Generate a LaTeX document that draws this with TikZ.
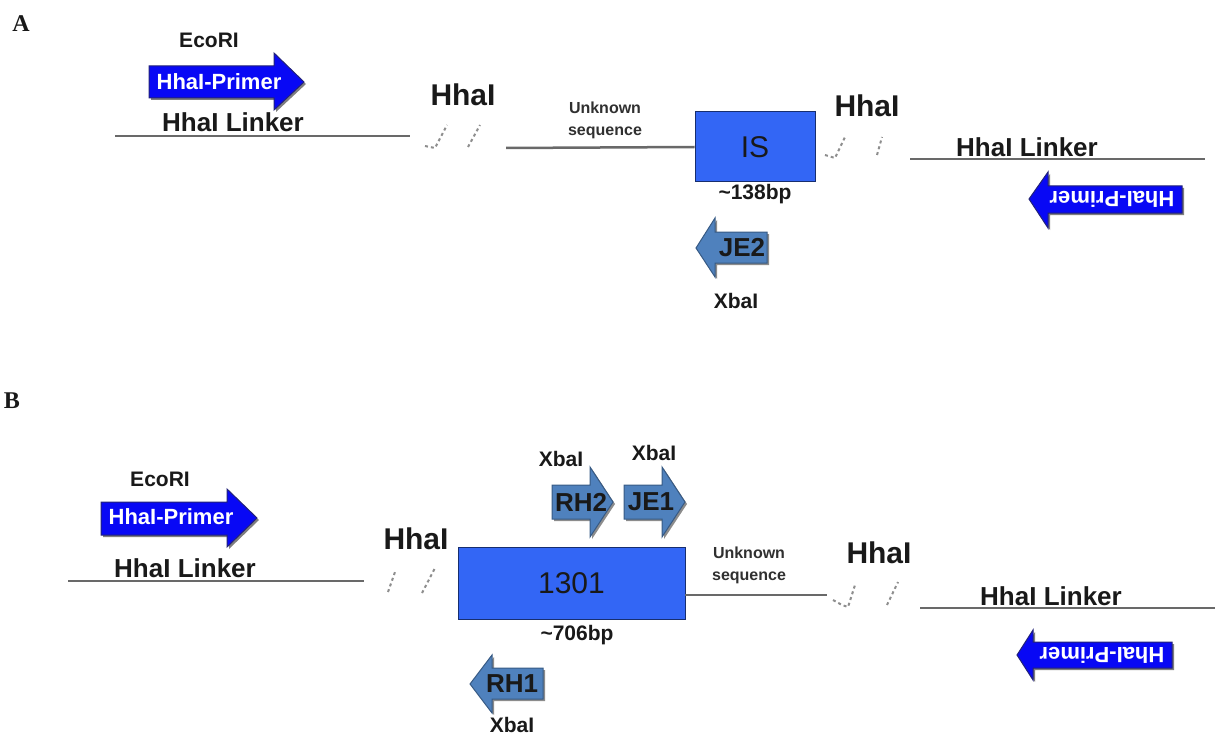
\documentclass[tikz,border=0pt]{standalone}
\usepackage{fontspec}
\setmainfont{Liberation Sans}
\newfontfamily\panelfont{Liberation Serif}
\usetikzlibrary{shadows}
\definecolor{primerblue}{RGB}{8,8,245}
\definecolor{primeredge}{RGB}{35,35,120}
\definecolor{isblue}{RGB}{51,102,245}
\definecolor{oligoblue}{RGB}{79,129,189}
\definecolor{linegray}{RGB}{105,105,105}
\definecolor{txt}{RGB}{25,25,25}
\begin{document}
\begin{tikzpicture}[x=1pt,y=-1pt,
  dna/.style={draw=linegray, line width=2.5pt},
  brk/.style={draw=linegray!75, line width=2pt, dash pattern=on 3pt off 3pt},
  primer/.style={fill=primerblue, draw=primeredge, line width=1pt,
    drop shadow={shadow xshift=2pt, shadow yshift=-2pt, opacity=0.5, fill=black}},
  oligo/.style={fill=oligoblue, draw=oligoblue!70!black, line width=1pt,
    drop shadow={shadow xshift=2pt, shadow yshift=-2pt, opacity=0.45, fill=black}},
  insert/.style={rectangle, fill=isblue, draw=isblue!45!black, line width=1pt, inner sep=0pt,
    text=txt, font=\fontsize{30}{30}\selectfont},
  panel/.style={font=\panelfont\bfseries\fontsize{24}{24}\selectfont, text=txt, inner sep=0pt},
  site/.style={font=\bfseries\fontsize{30}{30}\selectfont, text=txt, inner sep=0pt},
  linker/.style={font=\bfseries\fontsize{26}{26}\selectfont, text=txt, inner sep=0pt},
  eco/.style={font=\bfseries\fontsize{21}{21}\selectfont, text=txt, inner sep=0pt},
  primertext/.style={font=\bfseries\fontsize{22}{22}\selectfont, text=white, inner sep=0pt},
  oligotext/.style={font=\bfseries\fontsize{26}{26}\selectfont, text=txt, inner sep=0pt},
  unk/.style={font=\bfseries\fontsize{16}{22}\selectfont, text=txt!90, align=center, inner sep=0pt},
  bp/.style={font=\bfseries\fontsize{21}{21}\selectfont, text=txt, inner sep=0pt},
]
\useasboundingbox (0,0) rectangle (1217,738);

% ================= Panel A =================
\node[panel] (labA) at (21,24) {A};
\node[eco] (ecoA) at (209,40) {EcoRI};
\path[primer] (149,66) -- (274,66) -- (274,53) -- (304,82) -- (274,110) -- (274,98) -- (149,98) -- cycle;
\node[primertext] (pA1) at (219,82) {HhaI-Primer};

\coordinate (a1) at (115,136);
\coordinate (a2) at (410,136);
\draw[dna] (a1) -- (a2);
\node[linker] (linkA1) at (233,122) {HhaI Linker};

\node[site] (hhA1) at (463,95) {HhaI};
\draw[brk] (425,146) -- (435,148) -- (447,125);
\draw[brk] (468,147) -- (480,125);

\node[insert, minimum width=120pt, minimum height=70pt] (isA) at (755,147) {IS};
\coordinate (a3) at (506,148);
\draw[dna] (a3) -- (isA.west);
\node[unk] (unkA) at (605,120) {Unknown\\sequence};
\node[bp] (bpA) at (755,194) {\textasciitilde138bp};

\path[oligo] (767,232) -- (715,232) -- (715,218) -- (696,248) -- (715,277) -- (715,263) -- (767,263) -- cycle;
\node[oligotext] (je2) at (742,248) {JE2};
\node[eco] (xbA) at (736,301) {XbaI};

\node[site] (hhA2) at (867,106) {HhaI};
\draw[brk] (825,155) -- (835,158) -- (845,137);
\draw[brk] (877,155) -- (882,137);
\coordinate (a4) at (910,159);
\coordinate (a5) at (1205,159);
\draw[dna] (a4) -- (a5);
\node[linker] (linkA2) at (1027,147) {HhaI Linker};

\path[primer] (1182,186) -- (1048,186) -- (1048,172) -- (1029,199) -- (1048,228) -- (1048,213) -- (1182,213) -- cycle;
\node[primertext, rotate=180] (pA2) at (1112,199) {HhaI-Primer};

% ================= Panel B =================
\node[panel] (labB) at (12,401) {B};
\node[eco] (ecoB) at (160,479) {EcoRI};
\path[primer] (101,502) -- (227,502) -- (227,489) -- (257,518) -- (227,547) -- (227,535) -- (101,535) -- cycle;
\node[primertext] (pB1) at (171,517) {HhaI-Primer};

\coordinate (b1) at (68,581);
\coordinate (b2) at (364,581);
\draw[dna] (b1) -- (b2);
\node[linker] (linkB1) at (185,568) {HhaI Linker};

\node[site] (hhB1) at (416,539) {HhaI};
\draw[brk] (388,592) -- (395,572);
\draw[brk] (422,593) -- (435,568);

\node[insert, minimum width=227pt, minimum height=72pt] (b1301) at (571.5,583) {1301};
\node[bp] (bpB) at (577,635) {\textasciitilde706bp};

\coordinate (b3) at (685,595);
\coordinate (b4) at (827,595);
\draw[dna] (b3) -- (b4);
\node[unk] (unkB) at (749,565) {Unknown\\sequence};

\node[eco] (xbB1) at (561,459) {XbaI};
\node[eco] (xbB2) at (654,453) {XbaI};
\path[oligo] (552,485) -- (590,485) -- (590,467) -- (613,502) -- (590,537) -- (590,519) -- (552,519) -- cycle;
\node[oligotext] (rh2) at (581,502) {RH2};
\path[oligo] (624,485) -- (662,485) -- (662,467) -- (685,502) -- (662,537) -- (662,519) -- (624,519) -- cycle;
\node[oligotext] (je1) at (651,502) {JE1};

\path[oligo] (543,668) -- (492,668) -- (492,655) -- (470,684) -- (492,713) -- (492,699) -- (543,699) -- cycle;
\node[oligotext] (rh1) at (512,684) {RH1};
\node[eco] (xbB3) at (512,725) {XbaI};

\node[site] (hhB2) at (879,553) {HhaI};
\draw[brk] (833,600) -- (842,605) -- (848,607) -- (855,585);
\draw[brk] (887,605) -- (898,582);
\coordinate (b5) at (920,608);
\coordinate (b6) at (1215,608);
\draw[dna] (b5) -- (b6);
\node[linker] (linkB2) at (1051,596) {HhaI Linker};

\path[primer] (1172,642) -- (1033,642) -- (1033,630) -- (1017,655) -- (1033,680) -- (1033,668) -- (1172,668) -- cycle;
\node[primertext, rotate=180] (pB2) at (1102,655) {HhaI-Primer};
\end{tikzpicture}
\end{document}
